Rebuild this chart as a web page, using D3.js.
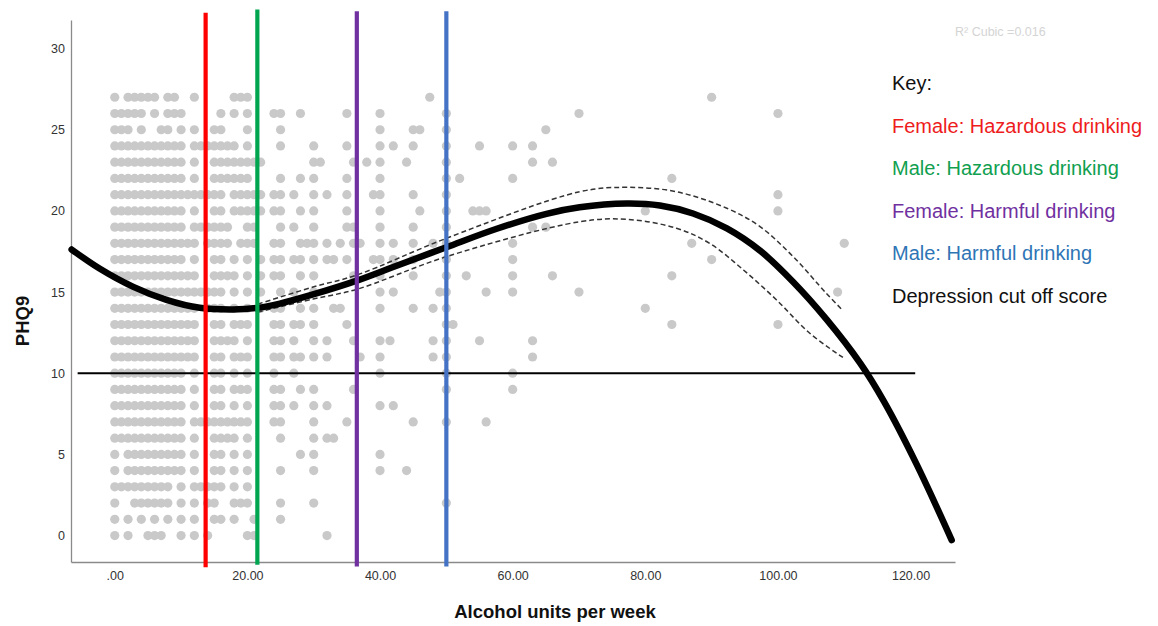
<!DOCTYPE html>
<html>
<head>
<meta charset="utf-8">
<script src="https://cdn.jsdelivr.net/npm/d3@7"></script>
<style>
  html, body { margin: 0; padding: 0; background: #fff; }
  svg { display: block; font-family: "Liberation Sans", Arial, sans-serif; }
</style>
</head>
<body>
<svg id="chart" width="1158" height="626"></svg>
<script>
// ---------------- DATA ----------------
const xTickValues = [0, 20, 40, 60, 80, 100, 120];
const xTickLabels = [".00", "20.00", "40.00", "60.00", "80.00", "100.00", "120.00"];
const yTickValues = [0, 5, 10, 15, 20, 25, 30];

// PHQ9 score of each row of scatter points
const phqRows = [27, 26, 25, 24, 23, 22, 21, 20, 19, 18, 17, 16, 15, 14, 13, 12, 11, 10, 9, 8, 7, 6, 5, 4, 3, 2, 1, 0];
// alcohol units per week observed in each row
const unitsByRow = [
  [0,2,3,4,5,6,8,9,12,18,19,20,47.5,90],
  [0,1,2,3,4,6,8,9,10,16,18,20,24,25,28,35,40,50,70,100],
  [0,1,2,4,7,8,10,12,15,16,20,25,40,45,46,50,65],
  [0,1,2,3,4,5,6,7,8,9,10,12,13,14,15,16,17,18,20,25,30,35,40,42,45,50,55,60,63],
  [0,1,2,3,4,5,6,7,8,9,10,12,15,16,17,18,19,20,21,22,30,31,36,38,40,44,50,63,66],
  [0,1,2,3,4,5,6,7,8,9,10,12,15,16,17,18,19,20,25,28,30,35,40,50,52,60,84],
  [0,1,2,3,4,5,6,7,8,9,10,11,12,13,14,15,16,18,19,20,21,22,24,25,27,30,32,35,39,40,45,50,100],
  [0,1,2,3,4,5,6,7,8,9,10,12,15,16,18,19,20,21,22,24,25,28,30,35,40,46,50,54,55,56,80,100],
  [0,1,2,3,4,5,6,7,8,9,10,12,13,14,15,16,17,20,21,25,27,30,35,36,40,45,50,63,65],
  [0,1,2,3,4,5,6,7,8,9,10,11,12,14,15,16,17,19,20,21,24,25,28,29,30,32,34,36,37,40,42,45,48,50,60,87,110],
  [0,1,2,3,4,5,6,7,8,9,10,12,15,16,18,20,22,24,25,27,28,30,32,33,35,39,40,42,45,50,60,90],
  [0,1,2,3,4,5,6,7,8,9,10,11,12,15,16,17,18,20,22,24,25,28,30,36,40,45,50,53,60,66,84],
  [0,1,2,3,4,5,6,7,8,9,10,11,12,13,14,15,16,18,20,22,25,27,30,40,42,49,50,56,60,70,109],
  [0,1,2,3,4,5,6,7,8,9,10,11,12,14,15,16,18,20,22,24,25,28,30,33,34,40,45,48,50,80],
  [0,1,2,3,4,5,6,7,8,9,10,11,12,15,16,18,19,20,24,25,27,28,30,35,50,51,84,100],
  [0,1,2,3,4,5,6,7,8,9,10,11,12,15,16,17,18,20,24,25,27,30,32,36,40,41.5,48,50,55,63],
  [0,1,2,3,4,5,6,7,8,9,10,11,12,15,16,18,19,20,24,25,27,28,30,32,37,40,48,50,63],
  [0,1,2,3,4,5,6,7,8,9,10,12,15,16,18,20,24,27,40,50,60],
  [0,1,2,3,4,5,6,7,8,9,10,12,15,16,18,19,20,24,25,28,30,36,50,60],
  [0,1,2,3,4,5,6,7,8,9,10,12,15,16,18,20,24,25,27,30,32,40,42],
  [0,1,2,3,4,5,6,7,8,9,10,12,13,14,15,16,17,18,19,20,24,25,30,35,45,50,56],
  [0,1,2,3,4,5,6,7,8,9,10,12,15,16,17,18,20,25,30,32,33],
  [0,2,3,4,5,6,7,8,9,10,12,15,16,18,20,28,30,40],
  [0,2,3,4,5,6,7,8,9,10,12,15,16,18,20,25,30,40,44],
  [0,1,2,3,4,5,6,7,8,10,12,13,14,15,16,18,20],
  [0,3,4,5,6,7,8,10,12,14,15,18,19,20,25,30,50],
  [0,2,4,6,8,10,12,15,16,18,21,25],
  [0,2,5,6,7,10,12,14,20,21,32]
];

// cubic fit line
const fitUnits = [-6.5, -2.3, 2.8, 7.8, 12.8, 17.8, 21.4, 24.9, 29.9, 36.5, 42.5, 50.0, 57.6, 65.1, 70.1, 77.2, 82.2, 87.2, 92.3, 97.3, 102.3, 107.3, 112.4, 116.0, 120.9, 126.2];
const fitPHQ   = [17.62, 16.45, 15.32, 14.52, 14.03, 13.93, 14.02, 14.29, 14.85, 15.70, 16.62, 17.76, 18.90, 19.82, 20.22, 20.45, 20.33, 19.84, 18.92, 17.55, 15.62, 13.33, 10.62, 8.25, 4.40, -0.28];

// confidence band (dashed)
const ciUpperUnits = [21.6, 29.9, 36.5, 50.0, 70.1, 77.2, 84.7, 92.3, 97.3, 102.3, 107.3, 109.8];
const ciUpperPHQ   = [14.26, 15.31, 16.05, 18.31, 21.18, 21.45, 21.18, 20.16, 19.03, 17.18, 14.92, 13.86];
const ciLowerUnits = [21.6, 29.9, 36.5, 50.0, 70.1, 77.2, 84.7, 89.7, 94.8, 99.8, 104.8, 109.8];
const ciLowerPHQ   = [13.77, 14.57, 15.17, 17.18, 19.33, 19.48, 18.93, 18.0, 16.36, 14.51, 12.46, 10.97];

// threshold lines
const thresholdNames  = ["Female: Hazardous drinking", "Male: Hazardous drinking", "Female: Harmful drinking", "Male: Harmful drinking"];
const thresholdUnits  = [13.7, 21.5, 36.5, 50.0];
const thresholdTop    = [32.2, 32.4, 32.3, 32.3];
const thresholdBottom = [-1.95, -1.8, -1.9, -1.9];
const lineColors      = ["#ff0000", "#00a550", "#7030a0", "#4472c4"];
const textColors      = ["#ee1c1c", "#10a050", "#7030a0", "#2e75b6"];

const cutoffScore = 10;
const cutoffFrom = -5.6, cutoffTo = 120.7;

const r2Text = "R\u00B2 Cubic =0.016";

// ---------------- CHART ----------------
const svg = d3.select("#chart");
const x = d3.scaleLinear().domain([-6.6, 126.7]).range([71, 955]);
const y = d3.scaleLinear().domain([-1.63, 31.76]).range([562, 20]);

// scatter
const points = [];
phqRows.forEach((p, i) => unitsByRow[i].forEach(u => points.push({u, p})));
svg.append("g").selectAll("circle").data(points).join("circle")
  .attr("cx", d => x(d.u)).attr("cy", d => y(d.p)).attr("r", 4.6)
  .attr("fill", "#c9c9c9");

// axes
const xAxis = d3.axisBottom(x).tickValues(xTickValues)
  .tickFormat((d, i) => xTickLabels[i]).tickSize(0).tickPadding(9);
const yAxis = d3.axisLeft(y).tickValues(yTickValues).tickSize(0).tickPadding(6);
const gx = svg.append("g").attr("transform", `translate(0,${y.range()[0]})`).call(xAxis);
const gy = svg.append("g").attr("transform", `translate(${x.range()[0]},0)`).call(yAxis);
[gx, gy].forEach(g => {
  g.select(".domain").attr("stroke", "#8a8a8a").attr("stroke-width", 1.3);
  g.selectAll("text").attr("fill", "#333").style("font-size", "12.5px")
    .style("font-family", "Liberation Sans, Arial, sans-serif");
});

// confidence band
const line = d3.line().x(d => x(d[0])).y(d => y(d[1])).curve(d3.curveCatmullRom.alpha(0.5));
[[ciUpperUnits, ciUpperPHQ], [ciLowerUnits, ciLowerPHQ]].forEach(([us, ps]) => {
  svg.append("path").datum(us.map((u, i) => [u, ps[i]]))
    .attr("d", line).attr("fill", "none").attr("stroke", "#333")
    .attr("stroke-width", 1.5).attr("stroke-dasharray", "5,3");
});

// fit curve
svg.append("path").datum(fitUnits.map((u, i) => [u, fitPHQ[i]]))
  .attr("d", line).attr("fill", "none").attr("stroke", "#000")
  .attr("stroke-width", 6.5).attr("stroke-linecap", "round");

// cutoff line
svg.append("line")
  .attr("x1", x(cutoffFrom)).attr("x2", x(cutoffTo))
  .attr("y1", y(cutoffScore)).attr("y2", y(cutoffScore))
  .attr("stroke", "#000").attr("stroke-width", 2);

// threshold vertical lines
svg.append("g").selectAll("line").data(thresholdUnits).join("line")
  .attr("x1", d => x(d)).attr("x2", d => x(d))
  .attr("y1", (d, i) => y(thresholdTop[i])).attr("y2", (d, i) => y(thresholdBottom[i]))
  .attr("stroke", (d, i) => lineColors[i]).attr("stroke-width", 4.2);

// axis titles
svg.append("text").attr("x", 555).attr("y", 618).attr("text-anchor", "middle")
  .style("font-size", "18.5px").style("font-weight", "bold").attr("fill", "#111")
  .text("Alcohol units per week");
svg.append("text").attr("transform", "translate(29,321) rotate(-90)")
  .attr("text-anchor", "middle")
  .style("font-size", "18.5px").style("font-weight", "bold").attr("fill", "#111")
  .text("PHQ9");

// R2 text
svg.append("text").attr("x", 955).attr("y", 36).style("font-size", "12.5px")
  .attr("fill", "#d4d4d4").text(r2Text);

// key
const keyLabels = ["Key:"].concat(thresholdNames).concat(["Depression cut off score"]);
const keyColors = ["#111"].concat(textColors).concat(["#111"]);
svg.append("g").selectAll("text").data(keyLabels).join("text")
  .attr("x", 892).attr("y", (d, i) => 90 + i * 42.5)
  .style("font-size", "20px").attr("fill", (d, i) => keyColors[i])
  .text(d => d);
</script>
</body>
</html>
